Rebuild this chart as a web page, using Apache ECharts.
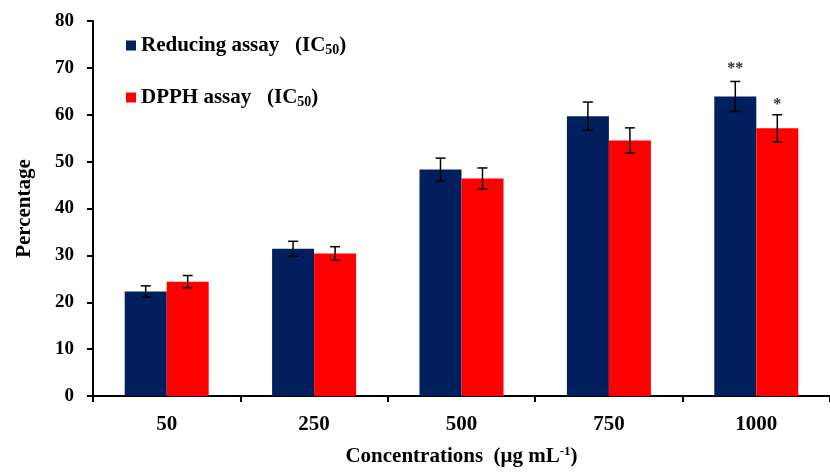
<!DOCTYPE html>
<html><head><meta charset="utf-8">
<script src="https://cdn.jsdelivr.net/npm/echarts@6/dist/echarts.min.js"></script>
<style>html,body{margin:0;padding:0;background:#fff}#c{width:830px;height:472px}</style>
</head><body><div id="c"></div>
<script>
var categories = ['50', '250', '500', '750', '1000'];
var reducing = [22.3, 31.4, 48.3, 59.7, 63.9];
var reducingErr = [1.2, 1.6, 2.45, 3.0, 3.2];
var dpph = [24.4, 30.4, 46.4, 54.5, 57.1];
var dpphErr = [1.3, 1.45, 2.25, 2.7, 2.9];
var reducingSig = ['', '', '', '', '**'];
var dpphSig = ['', '', '', '', '*'];
var yTicks = [0, 10, 20, 30, 40, 50, 60, 70, 80];

var FONT = '"Liberation Serif", "Times New Roman", serif';
var BLUE = '#001f5c', RED = '#ff0000';
var BARW = 42;

function errData(vals, errs) {
  return vals.map(function (v, i) { return [i, v, errs[i]]; });
}
function errSeries(vals, errs, sig, offset, sigGap) {
  return {
    type: 'custom', z: 10,
    data: errData(vals, errs),
    renderItem: function (params, api) {
      var i = api.value(0), v = api.value(1), e = api.value(2);
      var s = sig[params.dataIndex];
      var top = api.coord([i, v + e]), bot = api.coord([i, v - e]);
      var x = top[0] + offset, cap = 5;
      var st = { stroke: '#000', lineWidth: 1.5 };
      var children = [
        { type: 'line', shape: { x1: x, y1: top[1], x2: x, y2: bot[1] }, style: st },
        { type: 'line', shape: { x1: x - cap, y1: top[1], x2: x + cap, y2: top[1] }, style: st },
        { type: 'line', shape: { x1: x - cap, y1: bot[1], x2: x + cap, y2: bot[1] }, style: st }
      ];
      if (s) {
        children.push({ type: 'text', style: { text: s, x: x, y: top[1] - sigGap, align: 'center', verticalAlign: 'middle',
          font: 'bold 16px ' + FONT, fill: '#333' } });
      }
      return { type: 'group', children: children };
    }
  };
}

var chart = echarts.init(document.getElementById('c'));
var legRich = {
  a: { fontFamily: FONT, fontWeight: 'bold', fontSize: 21, color: '#000' },
  s: { fontFamily: FONT, fontWeight: 'bold', fontSize: 14, color: '#000', verticalAlign: 'bottom', padding: [9, 0, 0, 0] }
};
chart.setOption({
  animation: false,
  grid: { left: 93, top: 21, width: 746, height: 384, containLabel: false },
  legend: {
    orient: 'vertical', left: 121, top: 30, itemWidth: 10, itemHeight: 10, itemGap: 30,
    icon: 'rect',
    data: ['Reducing assay', 'DPPH assay'],
    formatter: function (n) {
      return n === 'Reducing assay' ? '{a|Reducing assay   (IC}{s|50}{a|)}' : '{a|DPPH assay   (IC}{s|50}{a|)}';
    },
    textStyle: { rich: legRich }
  },
  xAxis: {
    type: 'category', data: categories,
    name: 'Concentrations  (\u03bcg mL{sup|-1})', nameLocation: 'middle', nameGap: 49,
    nameTextStyle: { fontFamily: FONT, fontWeight: 'bold', fontSize: 21, color: '#000',
      rich: { sup: { fontFamily: FONT, fontWeight: 'bold', fontSize: 13, color: '#000', padding: [0, 0, 10, 0] } } },
    axisLine: { lineStyle: { color: '#000', width: 2 } },
    axisTick: { show: true, length: 6, lineStyle: { color: '#000', width: 2 } },
    axisLabel: { fontFamily: FONT, fontWeight: 'bold', fontSize: 21, color: '#000', margin: 18 }
  },
  yAxis: {
    type: 'value', min: 0, max: 80, interval: 10,
    name: 'Percentage', nameLocation: 'middle', nameGap: 58,
    nameTextStyle: { fontFamily: FONT, fontWeight: 'bold', fontSize: 21, color: '#000' },
    splitLine: { show: false },
    axisLine: { show: true, lineStyle: { color: '#000', width: 2 } },
    axisTick: { show: true, length: 6, lineStyle: { color: '#000', width: 2 } },
    axisLabel: { fontFamily: FONT, fontWeight: 'bold', fontSize: 19, color: '#000', margin: 19,
      formatter: function (v) { return yTicks.indexOf(v) >= 0 ? String(v) : ''; } }
  },
  series: [
    { name: 'Reducing assay', type: 'bar', data: reducing, barWidth: BARW, barGap: '0%', itemStyle: { color: BLUE } },
    { name: 'DPPH assay', type: 'bar', data: dpph, barWidth: BARW, barGap: '0%', itemStyle: { color: RED } },
    errSeries(reducing, reducingErr, reducingSig, -BARW / 2, 13),
    errSeries(dpph, dpphErr, dpphSig, BARW / 2, 10)
  ]
});
</script></body></html>
